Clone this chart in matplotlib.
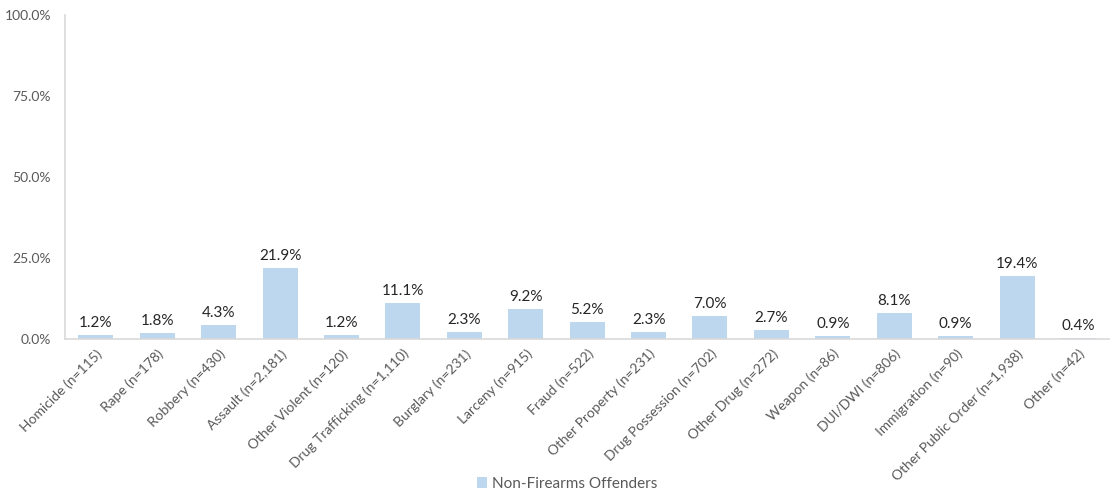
import matplotlib.pyplot as plt
from matplotlib.ticker import FuncFormatter

categories = [
    "Homicide (n=115)", "Rape (n=178)", "Robbery (n=430)", "Assault (n=2,181)",
    "Other Violent (n=120)", "Drug Trafficking (n=1,110)", "Burglary (n=231)",
    "Larceny (n=915)", "Fraud (n=522)", "Other Property (n=231)",
    "Drug Possession (n=702)", "Other Drug (n=272)", "Weapon (n=86)",
    "DUI/DWI (n=806)", "Immigration (n=90)", "Other Public Order (n=1,938)",
    "Other (n=42)",
]
non_firearms = [1.2, 1.8, 4.3, 21.9, 1.2, 11.1, 2.3, 9.2, 5.2, 2.3,
                7.0, 2.7, 0.9, 8.1, 0.9, 19.4, 0.4]
yticks = [0, 25, 50, 75, 100]

plt.rcParams['font.family'] = ['Lato', 'DejaVu Sans']

fig = plt.figure(figsize=(11.12, 4.92), dpi=100)
ax = fig.add_axes([0.0585, 0.311, 0.939, 0.6585])

x = range(len(categories))
ax.bar(x, non_firearms, width=0.57, color="#BDD7EE",
       label="Non-Firearms Offenders", zorder=2)

for xi, v in zip(x, non_firearms):
    ax.text(xi, v + 1.5, f"{v:.1f}%", ha="center", va="bottom",
            fontsize=11, color="#262626")

ax.set_xlim(-0.5, len(categories) - 0.5)
ax.set_ylim(0, 100)
ax.set_yticks(yticks)
ax.yaxis.set_major_formatter(FuncFormatter(lambda v, _: f"{v:.1f}%"))
ax.set_xticks(list(x))
ax.set_xticklabels(categories, rotation=45, ha="right", rotation_mode="anchor",
                   fontsize=10, color="#595959")
ax.tick_params(axis="y", labelsize=10, labelcolor="#595959", length=0, pad=10)
ax.tick_params(axis="x", length=0, pad=6)

for side in ["top", "right"]:
    ax.spines[side].set_visible(False)
for side in ["left", "bottom"]:
    ax.spines[side].set_color("#D9D9D9")
    ax.spines[side].set_linewidth(1.2)

fig.legend(loc="lower center", bbox_to_anchor=(0.51, -0.025), frameon=False,
           fontsize=11, handlelength=0.7, handleheight=0.7, handletextpad=0.3,
           labelcolor="#595959")

fig.savefig("out.png", dpi=100)
